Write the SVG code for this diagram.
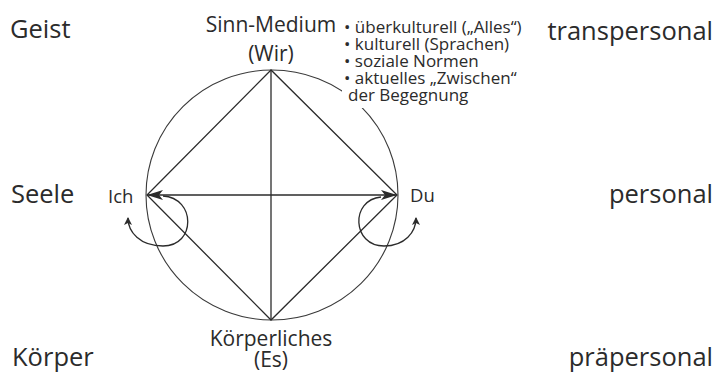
<svg xmlns="http://www.w3.org/2000/svg" width="720" height="374" viewBox="0 0 720 374">
<style>
text{font-family:"Open Sans","Noto Sans","Liberation Sans",sans-serif;fill:#2b2b2b}
.lvl{font-size:25.5px}
.nd{font-size:21px}
.sm{font-size:18.5px}
.bl{font-size:17px}
.ln{stroke:#2b2b2b;stroke-width:1.3;fill:none}
.cir{stroke:#3a3a3a;stroke-width:1.1;fill:none}
</style>
<defs>
<marker id="big" viewBox="0 0 16 10" refX="15" refY="5" markerWidth="16" markerHeight="10" markerUnits="userSpaceOnUse" orient="auto-start-reverse">
<path d="M0,0 L16,5 L0,10 L4,5 Z" fill="#2b2b2b"/>
</marker>
<marker id="small" viewBox="0 0 8 8" refX="7" refY="4" markerWidth="8" markerHeight="8" markerUnits="userSpaceOnUse" orient="auto">
<path d="M0,0 L8,4 L0,8 L2,4 Z" fill="#2b2b2b"/>
</marker>
</defs>
<rect width="720" height="374" fill="#fff"/>
<g id="levels">
<text class="lvl" x="10" y="38">Geist</text>
<text class="lvl" x="11" y="203">Seele</text>
<text class="lvl" x="12" y="366">Körper</text>
<text class="lvl" x="713" y="40" text-anchor="end">transpersonal</text>
<text class="lvl" x="713" y="203" text-anchor="end">personal</text>
<text class="lvl" x="713" y="366" text-anchor="end">präpersonal</text>
</g>
<g id="circle">
<ellipse class="cir" cx="272" cy="195" rx="126" ry="125"/>
</g>
<g id="connectors">
<path class="ln" d="M271,70 L147,195 L271,320 L397,195 Z"/>
<line class="ln" x1="271" y1="70" x2="271" y2="320"/>
<line class="ln" x1="148" y1="195" x2="396" y2="195" marker-start="url(#big)" marker-end="url(#big)"/>
<path class="ln" d="M163,196 C196,198 196,246 163,246 C140,246 128,232 128,218" marker-end="url(#small)"/>
<path class="ln" d="M381,197 C350,200 352,246 384,246 C405,246 416,232 416,218" marker-end="url(#small)"/>
</g>
<g id="wir">
<text class="nd" x="271" y="32" text-anchor="middle">Sinn-Medium</text>
<text class="nd" x="271" y="61" text-anchor="middle">(Wir)</text>
</g>
<g id="notes">
<rect x="342" y="12" width="190" height="96" fill="#fff"/>
<text class="bl" x="344" y="33">• überkulturell („Alles“)</text>
<text class="bl" x="344" y="50">• kulturell (Sprachen)</text>
<text class="bl" x="344" y="67">• soziale Normen</text>
<text class="bl" x="344" y="84">• aktuelles „Zwischen“</text>
<text class="bl" x="348" y="101">der Begegnung</text>
</g>
<g id="ich">
<text class="sm" x="108" y="203">Ich</text>
</g>
<g id="du">
<text class="sm" x="410" y="202">Du</text>
</g>
<g id="es">
<text class="nd" x="271" y="346" text-anchor="middle">Körperliches</text>
<text class="nd" x="271" y="367" text-anchor="middle">(Es)</text>
</g>
</svg>
